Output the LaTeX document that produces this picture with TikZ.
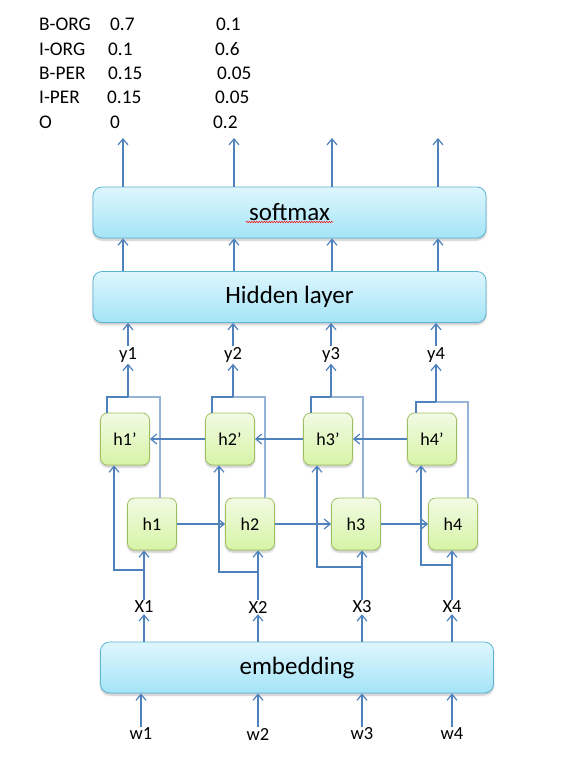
\documentclass[tikz,border=0pt]{standalone}
\usepackage{fontspec}
\setmainfont{Carlito}
\usepackage{tikz}
\usetikzlibrary{arrows.meta}
\usetikzlibrary{shadows.blur}
\usetikzlibrary{decorations.pathmorphing}

\definecolor{arrowblue}{RGB}{79,129,189}
\definecolor{paleblue}{RGB}{149,179,215}
\definecolor{barline}{RGB}{93,180,210}
\definecolor{bartop}{RGB}{222,246,253}
\definecolor{barbottom}{RGB}{164,228,247}
\definecolor{cellline}{RGB}{160,192,96}
\definecolor{celltop}{RGB}{242,250,228}
\definecolor{cellbottom}{RGB}{214,244,166}

\begin{document}
\begin{tikzpicture}[x=1pt,y=1pt,yscale=-1,xscale=1,
  arr/.style={draw=arrowblue,line width=1.2pt,-{Straight Barb[length=6pt,width=10pt]}},
  line/.style={draw=arrowblue,line width=1.2pt},
  back/.style={draw=paleblue,line width=2pt},
  bar/.style={draw=barline,line width=0.8pt,rounded corners=9pt,top color=bartop,bottom color=barbottom,
    minimum width=393pt,minimum height=51pt,inner sep=0pt,
    blur shadow={shadow xshift=0pt,shadow yshift=-2pt,shadow blur steps=6,shadow opacity=25},
    font=\fontsize{25}{30}\selectfont},
  cell/.style={draw=cellline,line width=0.8pt,rounded corners=7pt,top color=celltop,bottom color=cellbottom,
    minimum width=49pt,minimum height=52pt,inner sep=0pt,
    blur shadow={shadow xshift=0pt,shadow yshift=-2pt,shadow blur steps=5,shadow opacity=25},
    font=\fontsize{18}{21}\selectfont},
  lab/.style={inner sep=1pt,font=\fontsize{18.5}{22}\selectfont},
  tab/.style={anchor=west,inner sep=0pt,font=\fontsize{19.3}{22}\selectfont}]
\useasboundingbox (0,0) rectangle (563,760);

% score table
\foreach \tag/\pa/\pb/\xa/\xb [count=\i] in {B-ORG/0.7/0.1/110/216, I-ORG/0.1/0.6/108/215, B-PER/0.15/0.05/108/217, I-PER/0.15/0.05/107/215, O/0/0.2/110/213}
{
  \node[tab] (tag\i) at (39,0.5+24.3*\i) {\tag};
  \node[tab] (pa\i) at (\xa,0.5+24.3*\i) {\pa};
  \node[tab] (pb\i) at (\xb,0.5+24.3*\i) {\pb};
}

% layers
\node[bar] (sm) at (289.5,212.5) {softmax};
\node[bar] (hid) at (289.5,297) {Hidden layer};
\node[bar] (emb) at (297,667.5) {embedding};
\draw[red,line width=0.5pt,decorate,decoration={snake,amplitude=0.7pt,segment length=2.5pt}] (246,222) -- (333,222);

\foreach \i/\xb/\xf in {1/125/152,2/230/250,3/328/356,4/432/453}
{
  \node[cell] (b\i) at (\xb,439) {h\i’};
  \node[cell] (f\i) at (\xf,524) {h\i};
}

\foreach \i/\xy/\xx/\xw/\xc in {1/128/144/141/123,2/233/258/258/234,3/331/362/362/332,4/436/452/452/438}
{
  \node[lab] (y\i) at (\xy,355) {y\i};
  \node[lab] (x\i) at (\xx,607) {X\i};
  \node[lab] (w\i) at (\xw,734) {w\i};
  \coordinate (c\i) at (\xc,138);
}

% vertical arrows
\foreach \i in {1,...,4}
{
  \draw[arr] (sm.north -| c\i) -- (c\i);
  \draw[arr] (hid.north -| c\i) -- (sm.south -| c\i);
  \draw[arr] (y\i.north) -- (y\i.north |- hid.south);
  \draw[arr] (emb.north -| x\i) -- (x\i.south);
  \draw[arr] (w\i.north) -- (w\i.north |- emb.south);
  \draw[arr] (x\i.north) -- (x\i.north |- f\i.south);
}

% both directions into y
\foreach \i/\bl/\fr/\my/\by in {1/-18/8/397/570, 2/-18/15/397/572, 3/-17/7/397/567, 4/-16/15/402/565}
{
  \draw[back] ([xshift=\fr pt]f\i.north) |- (y\i.south |- 0,\my);
  \draw[line] ([xshift=\bl pt]b\i.north) |- (y\i.south |- 0,\my);
  \draw[arr] (y\i.south |- 0,\my) -- (y\i.south);
  \draw[arr] (x\i.north |- 0,\by) -| ([xshift=-11pt]b\i.south);
}

% recurrent arrows
\foreach \i/\j in {1/2,2/3,3/4}
{
  \draw[arr] (f\i.east) -- (f\j.west);
  \draw[arr] (b\j.west) -- (b\i.east);
}
\end{tikzpicture}
\end{document}
